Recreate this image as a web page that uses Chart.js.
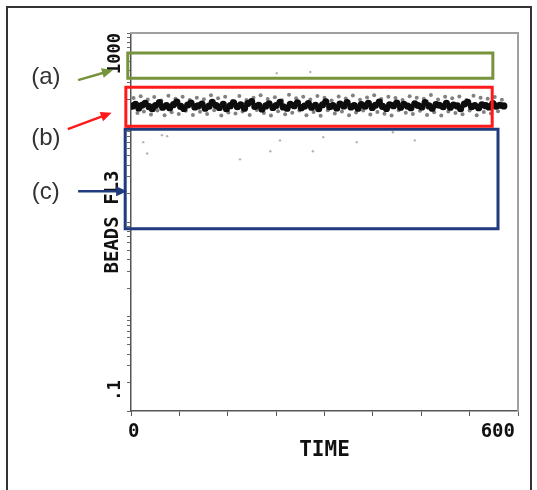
<!DOCTYPE html>
<html>
<head>
<meta charset="utf-8">
<title>Beads FL3 vs time</title>
<script src="https://cdn.jsdelivr.net/npm/chart.js@4.4.1/dist/chart.umd.min.js"></script>
<style>
  html, body { margin: 0; padding: 0; background: #fff; overflow: hidden; }
  #wrap { position: relative; width: 537px; height: 490px; }
  #frame { position: absolute; left: 6px; top: 6px; width: 526px; height: 500px; border: 2px solid #333; box-sizing: border-box; pointer-events: none; }
  #wrap canvas { position: absolute; left: 0; top: 0; }
</style>
</head>
<body>
<div id="wrap">
  <canvas id="beadsChart" width="537" height="490"></canvas>
  <div id="frame"></div>
</div>
<script>
// axis ticks
const xTickValues = [0, 75, 150, 225, 300, 375, 450, 525, 600];
const yTickValues = [0.1, 0.2, 0.3, 0.4, 0.5, 0.6, 0.7, 0.8, 0.9,
  1, 2, 3, 4, 5, 6, 7, 8, 9,
  10, 20, 30, 40, 50, 60, 70, 80, 90,
  100, 200, 300, 400, 500, 600, 700, 800, 900, 1000];

// dense bead population (core of the band)
const coreTime = [2, 7, 12, 17, 22, 28, 33, 38, 44, 49,
  55, 60, 66, 71, 77, 82, 88, 93, 99, 104,
  110, 115, 121, 126, 132, 137, 143, 148, 154, 159,
  165, 170, 176, 181, 187, 192, 198, 203, 209, 214,
  220, 225, 231, 236, 242, 247, 253, 258, 264, 269,
  275, 280, 286, 291, 297, 302, 308, 313, 319, 324,
  330, 335, 341, 346, 352, 357, 363, 368, 374, 379,
  385, 390, 396, 401, 407, 412, 418, 423, 429, 434,
  440, 445, 451, 456, 462, 467, 473, 478, 484, 489,
  495, 500, 506, 511, 517, 522, 528, 533, 539, 544,
  550, 555, 561, 566, 572, 578];
const coreFl3 = [168, 176, 161, 172, 180, 166, 158, 171, 183, 164,
  170, 162, 175, 186, 167, 159, 173, 181, 165, 169,
  177, 160, 168, 184, 171, 163, 176, 158, 170, 182,
  166, 174, 160, 179, 188, 167, 172, 157, 169, 178,
  163, 171, 185, 165, 160, 176, 170, 182, 162, 168,
  179, 164, 172, 158, 174, 187, 166, 170, 161, 177,
  169, 183, 165, 171, 160, 175, 168, 180, 163, 172,
  186, 167, 159, 174, 170, 181, 164, 176, 168, 162,
  178, 171, 165, 183, 169, 160, 175, 172, 166, 180,
  164, 173, 169, 158, 177, 185, 166, 171, 162, 174,
  170, 165, 179, 168, 172, 169];

// lighter scatter around the band
const haloTime = [4, 10, 15, 20, 26, 31, 36, 41, 47, 52,
  58, 63, 69, 74, 80, 85, 91, 96, 102, 107,
  113, 118, 124, 129, 135, 140, 146, 151, 157, 162,
  168, 173, 179, 184, 190, 195, 201, 206, 212, 217,
  223, 228, 234, 239, 245, 250, 256, 261, 267, 272,
  278, 283, 289, 294, 300, 305, 311, 316, 322, 327,
  333, 338, 344, 349, 355, 360, 366, 371, 377, 382,
  388, 393, 399, 404, 410, 415, 421, 426, 432, 437,
  443, 448, 454, 459, 465, 470, 476, 481, 487, 492,
  498, 503, 509, 514, 520, 525, 531, 536, 542, 547,
  553, 558, 564, 569, 575];
const haloFl3 = [205, 142, 214, 148, 198, 137, 210, 151, 193, 135,
  217, 145, 201, 139, 212, 150, 195, 136, 207, 147,
  199, 139, 220, 152, 204, 134, 211, 144, 191, 141,
  215, 148, 196, 136, 206, 153, 219, 142, 200, 134,
  209, 149, 194, 138, 222, 143, 204, 151, 212, 135,
  198, 146, 216, 133, 206, 152, 193, 141, 213, 148,
  203, 135, 218, 144, 197, 151, 208, 137, 220, 146,
  200, 140, 211, 134, 205, 152, 196, 143, 214, 139,
  207, 150, 202, 136, 221, 145, 198, 134, 211, 148,
  204, 142, 213, 138, 195, 151, 217, 135, 206, 146,
  201, 141, 210, 149, 197];

// isolated events
const sparseTime = [19, 48, 25, 169, 216, 282, 298, 350, 406, 440, 56, 231, 226, 278];
const sparseFl3 = [70, 83, 53, 46, 56, 56, 79, 70, 89, 73, 81, 73, 376, 386];

// gates (a), (b), (c)
const gateNames = ['(a)', '(b)', '(c)'];
const gateTimeMin = [-5, -8, -9];
const gateTimeMax = [561, 560, 569];
const gateFl3Low = [333, 103, 8.5];
const gateFl3High = [614, 267, 96];
const gateColors = ['#77933c', '#ff1a1a', '#1f3b7d'];

// gate captions and arrows
const labelTime = [-132, -132, -132];
const labelFl3 = [341, 77, 20.6];
const arrowFromTime = [-82, -98, -82];
const arrowFromFl3 = [317, 96, 21.1];
const arrowToTime = [-28, -30, -6];
const arrowToFl3 = [406, 143, 21.1];

const toPoints = (xs, ys) => xs.map((t, i) => ({ x: t, y: ys[i] }));

const gateDatasets = gateNames.map((name, i) => ({
    label: name,
    showLine: true,
    data: [
        { x: gateTimeMin[i], y: gateFl3Low[i] },
        { x: gateTimeMax[i], y: gateFl3Low[i] },
        { x: gateTimeMax[i], y: gateFl3High[i] },
        { x: gateTimeMin[i], y: gateFl3High[i] },
        { x: gateTimeMin[i], y: gateFl3Low[i] }
    ],
    borderColor: gateColors[i],
    borderWidth: 3,
    borderJoinStyle: 'miter',
    borderCapStyle: 'square',
    pointRadius: 0,
    fill: false,
    clip: false
}));

const gateLabels = {
    id: 'gateLabels',
    afterDatasetsDraw(chart) {
        const { ctx, scales: { x, y } } = chart;
        ctx.save();
        ctx.font = '24px "Liberation Sans", Arial, sans-serif';
        ctx.fillStyle = '#333';
        ctx.textAlign = 'center';
        ctx.textBaseline = 'middle';
        gateNames.forEach((txt, i) => {
            ctx.fillText(txt, x.getPixelForValue(labelTime[i]), y.getPixelForValue(labelFl3[i]));
        });
        arrowFromTime.forEach((t, i) => {
            const x0 = x.getPixelForValue(t), y0 = y.getPixelForValue(arrowFromFl3[i]);
            const x1 = x.getPixelForValue(arrowToTime[i]), y1 = y.getPixelForValue(arrowToFl3[i]);
            const ang = Math.atan2(y1 - y0, x1 - x0);
            const head = 11;
            ctx.strokeStyle = gateColors[i];
            ctx.fillStyle = gateColors[i];
            ctx.lineWidth = 2.5;
            ctx.beginPath();
            ctx.moveTo(x0, y0);
            ctx.lineTo(x1 - head * 0.8 * Math.cos(ang), y1 - head * 0.8 * Math.sin(ang));
            ctx.stroke();
            ctx.beginPath();
            ctx.moveTo(x1, y1);
            ctx.lineTo(x1 - head * Math.cos(ang) + 5 * Math.sin(ang), y1 - head * Math.sin(ang) - 5 * Math.cos(ang));
            ctx.lineTo(x1 - head * Math.cos(ang) - 5 * Math.sin(ang), y1 - head * Math.sin(ang) + 5 * Math.cos(ang));
            ctx.closePath();
            ctx.fill();
        });
        ctx.restore();
    }
};

const monoFont = '"DejaVu Sans Mono", "Liberation Mono", monospace';

new Chart(document.getElementById('beadsChart'), {
    type: 'scatter',
    data: {
        datasets: [
            ...gateDatasets,
            { label: 'core', data: toPoints(coreTime, coreFl3), backgroundColor: '#0d0d0d', pointRadius: 3.6, borderWidth: 0 },
            { label: 'halo', data: toPoints(haloTime, haloFl3), backgroundColor: 'rgba(45,45,45,0.6)', pointRadius: 2, borderWidth: 0 },
            { label: 'sparse', data: toPoints(sparseTime, sparseFl3), backgroundColor: 'rgba(130,130,130,0.6)', pointRadius: 1.2, borderWidth: 0 }
        ]
    },
    options: {
        responsive: false,
        animation: false,
        layout: { padding: { left: 101.6, right: 19, top: 33, bottom: 22 } },
        plugins: { legend: { display: false }, tooltip: { enabled: false } },
        scales: {
            x: {
                type: 'linear',
                min: 0,
                max: 600,
                afterBuildTicks: (scale) => { scale.ticks = xTickValues.map(v => ({ value: v })); },
                grid: { drawOnChartArea: false, drawTicks: true, tickLength: 5, color: '#555' },
                border: { color: '#555', width: 1.5 },
                ticks: {
                    autoSkip: false,
                    maxRotation: 0,
                    align: 'inner',
                    labelOffset: -3,
                    padding: 5,
                    color: '#111',
                    font: { family: monoFont, size: 19, weight: 'bold' },
                    callback: (v) => (v === 0 || v === 600 ? String(v) : '')
                },
                title: {
                    display: true,
                    text: 'TIME',
                    color: '#111',
                    font: { family: monoFont, size: 21, weight: 'bold' },
                    padding: { top: -10.4, bottom: 4.4 }
                }
            },
            y: {
                type: 'logarithmic',
                min: 0.1,
                max: 1000,
                afterBuildTicks: (scale) => { scale.ticks = yTickValues.map(v => ({ value: v })); },
                grid: { drawOnChartArea: false, drawTicks: true, tickLength: 4, color: '#666' },
                border: { color: '#555', width: 1.5 },
                ticks: {
                    autoSkip: false,
                    minRotation: 90,
                    maxRotation: 90,
                    crossAlign: 'center',
                    padding: -30,
                    color: '#111',
                    font: { family: monoFont, size: 17, weight: 'bold' },
                    // padded so the end labels sit inside the axis range
                    callback: (v) => (v === 1000 ? '1000    ' : (v === 0.1 ? '    .1' : ''))
                },
                title: {
                    display: true,
                    text: 'BEADS FL3',
                    color: '#111',
                    font: { family: monoFont, size: 19, weight: 'bold' },
                    padding: { top: 0, bottom: 42.2 }
                }
            },
            xTop: {
                type: 'linear',
                position: 'top',
                min: 0,
                max: 600,
                ticks: { display: false },
                grid: { drawOnChartArea: false, drawTicks: false },
                border: { color: '#a0a0a0', width: 2 }
            },
            yRight: {
                type: 'linear',
                position: 'right',
                min: 0,
                max: 1,
                ticks: { display: false },
                grid: { drawOnChartArea: false, drawTicks: false },
                border: { color: '#a0a0a0', width: 2 }
            }
        }
    },
    plugins: [gateLabels]
});
</script>
</body>
</html>
